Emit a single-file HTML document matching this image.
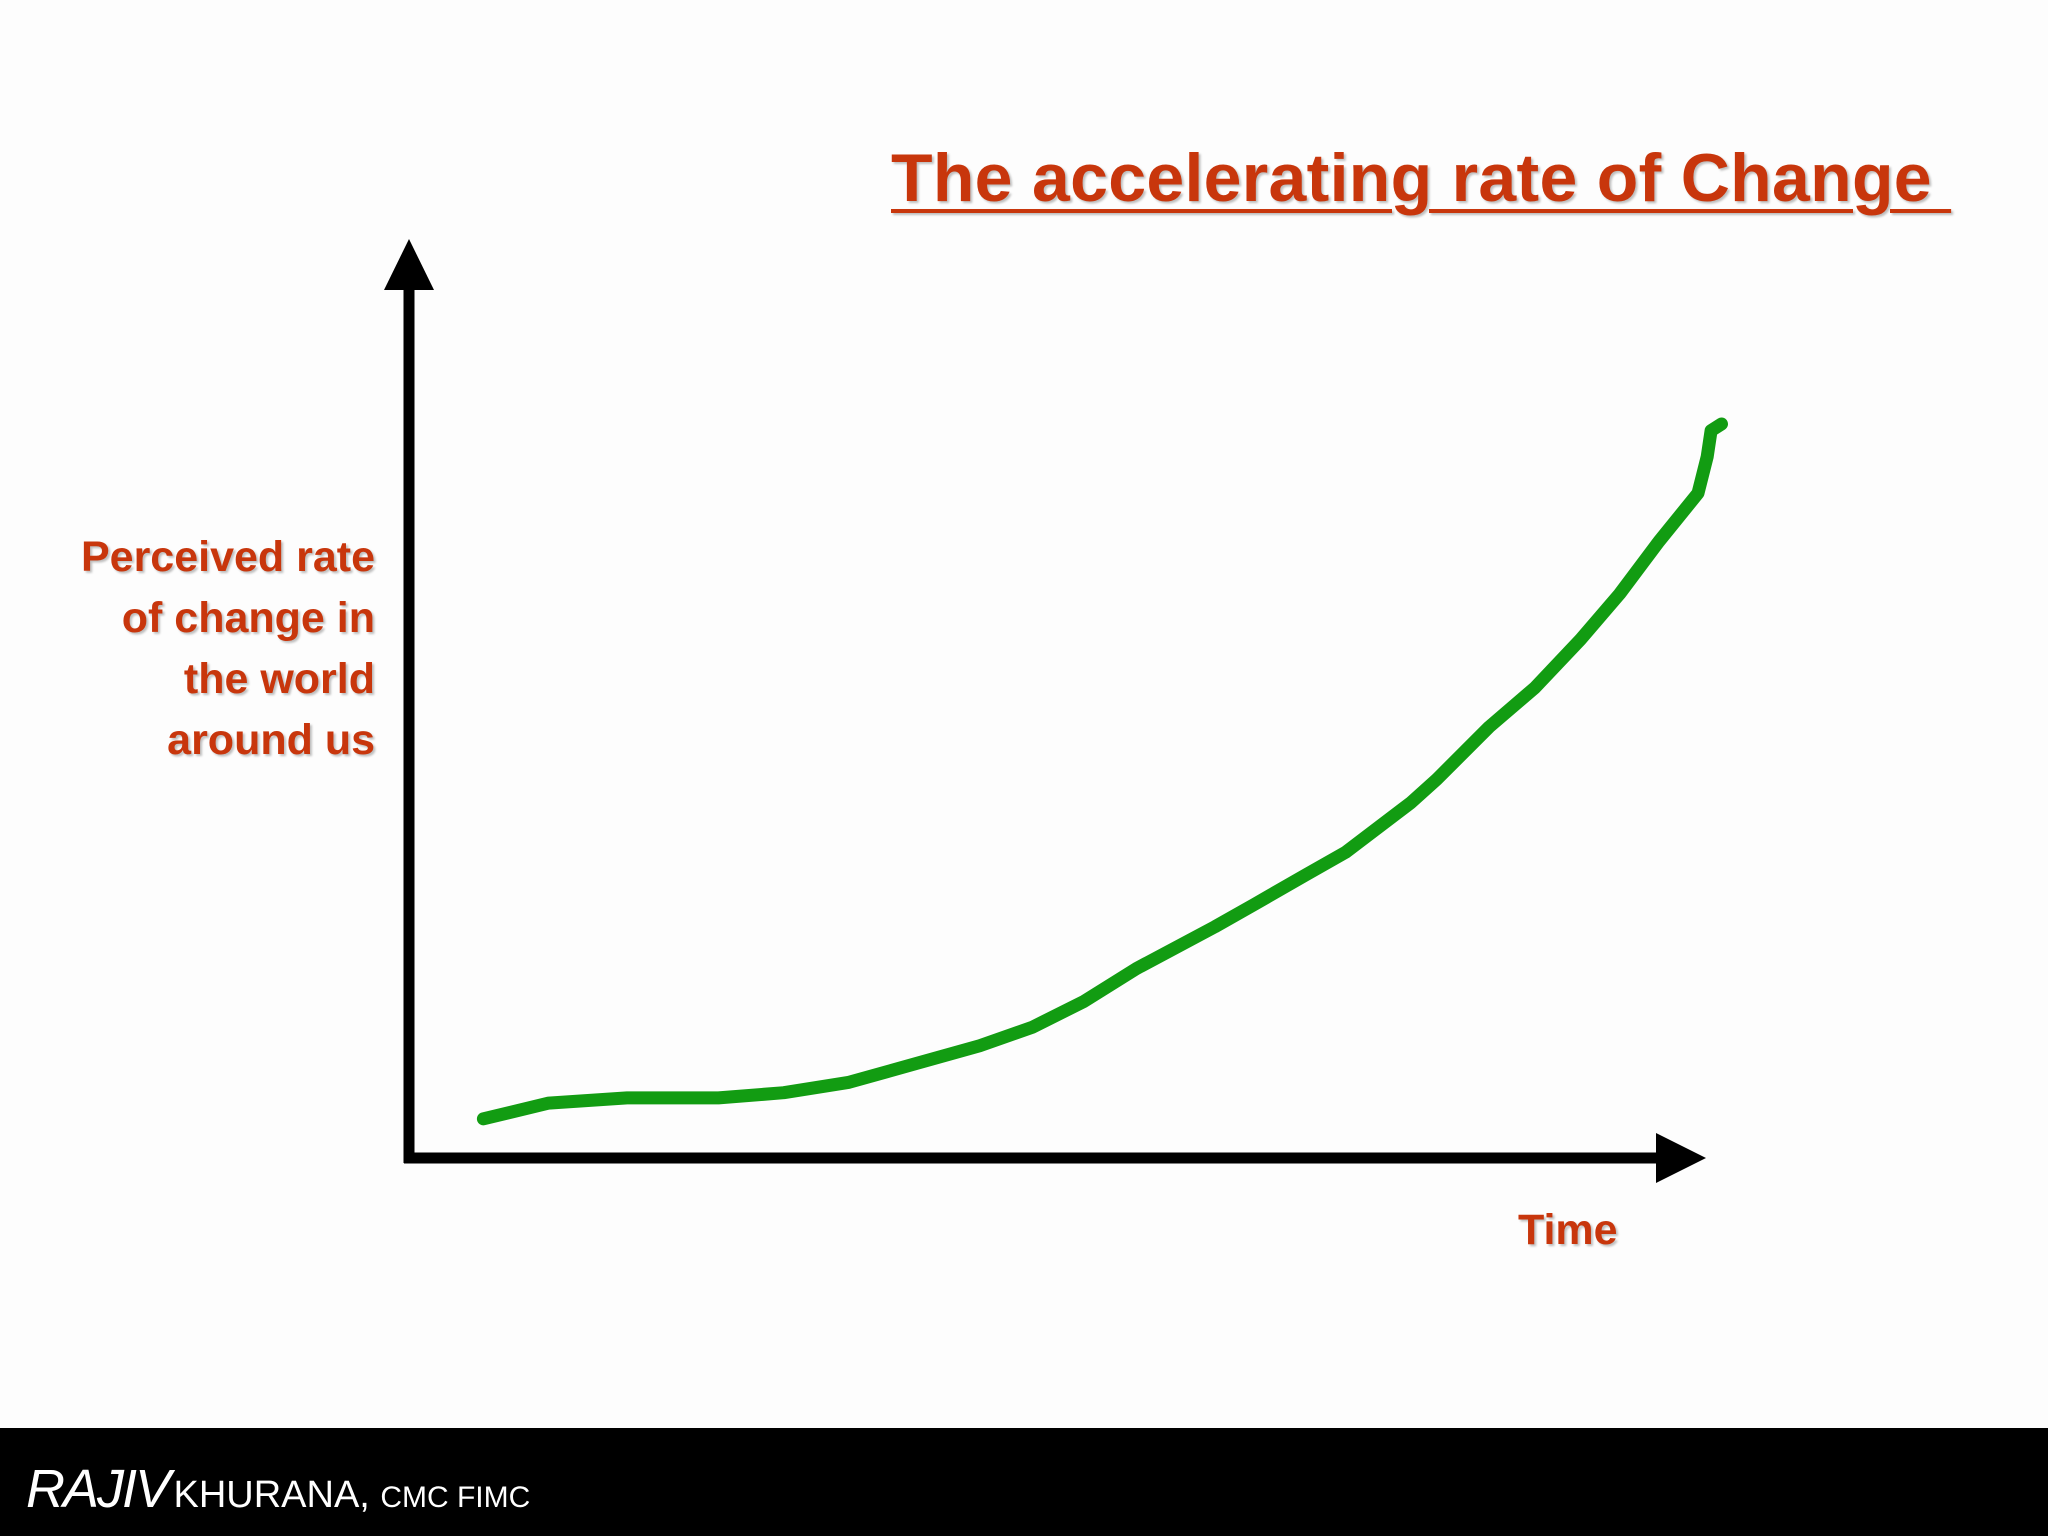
<!DOCTYPE html>
<html><head><meta charset="utf-8"><style>
html,body{margin:0;padding:0;background:#fdfdfd;}
body{width:2048px;height:1536px;position:relative;overflow:hidden;font-family:"Liberation Sans",sans-serif;}
.t{position:absolute;color:#c8360c;font-weight:bold;text-shadow:2px 2px 2px rgba(0,0,0,0.25);}
</style></head><body>
<div class="t" style="left:891px;top:139px;font-size:68px;letter-spacing:0.3px;text-decoration:underline;text-decoration-thickness:4px;text-underline-offset:8px;white-space:pre;">The accelerating rate of Change </div>
<div class="t" style="right:1673px;top:527px;font-size:43px;line-height:61px;text-align:right;">Perceived rate<br>of change in<br>the world<br>around us</div>
<div class="t" style="left:1518px;top:1206px;font-size:43px;">Time</div>
<svg width="2048" height="1536" style="position:absolute;left:0;top:0">
<line x1="409" y1="285" x2="409" y2="1163" stroke="#000" stroke-width="11"/>
<polygon points="409,239 384,290 434,290" fill="#000"/>
<line x1="404" y1="1158" x2="1660" y2="1158" stroke="#000" stroke-width="11"/>
<polygon points="1706,1158 1656,1133 1656,1183" fill="#000"/>
<path id="curve" fill="none" stroke="#129c12" stroke-width="13" stroke-linecap="round" stroke-linejoin="round"/>
</svg>
<div style="position:absolute;left:0;top:1428px;width:2048px;height:108px;background:#000;"></div>
<div style="position:absolute;left:26px;top:1458px;color:#fff;white-space:nowrap;font-family:'Liberation Sans',sans-serif;">
<span style="font-size:54px;font-style:italic;letter-spacing:-2px;">RAJIV</span>
<span style="font-size:38px;">KHURANA,</span>
<span style="font-size:30px;margin-left:6px;">CMC FIMC</span></div>
<script>
const times=[57,107,167,237,287,337,387,437,477,517,557,617,647,687,717,767,787,827,862,897,927,957,987,994,997,1005];
const rates=[30,42,46,46,50,58,72,86,100,120,145,177,194,217,234,272,290,330,360,397,432,472,509,537,557,562];
function xS(t){return 409+t*1.306;}
function yS(v){return 1158-v*1.306;}
const p=document.getElementById('curve');


let d='';
for(let i=0;i<times.length;i++){d+=(i?'L':'M')+xS(times[i]).toFixed(1)+','+yS(rates[i]).toFixed(1);}
p.setAttribute('d',d);
</script>
</body></html>
